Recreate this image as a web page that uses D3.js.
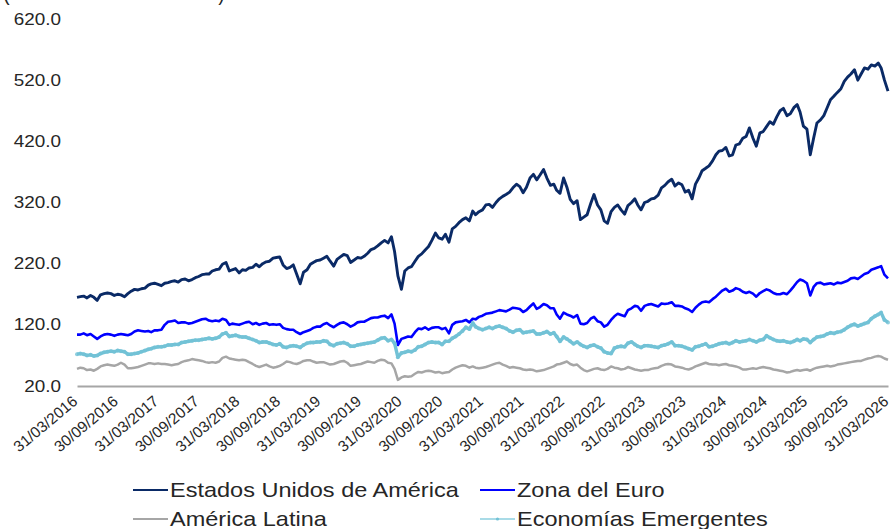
<!DOCTYPE html>
<html>
<head>
<meta charset="utf-8">
<script src="https://cdn.jsdelivr.net/npm/d3@7"></script>
<style>
    body { margin: 0; background: #ffffff; }
    svg { display: block; }
</style>
</head>
<body>
<svg id="chart" width="891" height="529"></svg>
<script>
// semi-monthly observations: 31/03/2016, then the 15th and last day of every month up to 31/03/2026
const firstDate = "31/03/2016";
const monthsCovered = 120;

const tickLabels = [
    "31/03/2016", "30/09/2016", "31/03/2017", "30/09/2017", "31/03/2018", "30/09/2018",
    "31/03/2019", "30/09/2019", "31/03/2020", "30/09/2020", "31/03/2021", "30/09/2021",
    "31/03/2022", "30/09/2022", "31/03/2023", "30/09/2023", "31/03/2024", "30/09/2024",
    "31/03/2025", "30/09/2025", "31/03/2026"
];
const yTicks = [20, 120, 220, 320, 420, 520, 620];

const seriesNames = ["Estados Unidos de América", "Zona del Euro", "América Latina", "Economías Emergentes"];

const usa = [165,
    166, 167, 164, 168, 165, 160, 169, 171, 172, 171, 168, 170, 169, 166, 171, 175, 178, 177, 179, 180, 185, 187, 188, 186,
    184, 188, 189, 191, 192, 190, 194, 195, 192, 194, 197, 199, 202, 203, 203, 208, 210, 211, 219, 222, 208, 210, 212, 205,
    210, 209, 213, 214, 219, 215, 220, 223, 224, 229, 230, 231, 218, 212, 214, 218, 203, 187, 206, 210, 219, 222, 225, 226,
    229, 232, 224, 216, 227, 231, 235, 233, 222, 226, 230, 229, 232, 237, 243, 245, 249, 254, 258, 254, 264, 240, 200, 178,
    208, 213, 215, 224, 232, 236, 242, 248, 258, 270, 262, 260, 268, 255, 277, 281, 287, 292, 295, 290, 306, 300, 305, 308,
    316, 317, 312, 320, 326, 330, 333, 337, 344, 350, 346, 336, 345, 360, 366, 357, 365, 374, 360, 348, 350, 340, 335, 360,
    345, 325, 318, 323, 292, 296, 300, 318, 333, 316, 308, 290, 286, 305, 312, 316, 308, 301, 315, 320, 326, 316, 308, 320,
    322, 326, 327, 332, 344, 348, 354, 358, 347, 352, 349, 337, 340, 326, 350, 360, 372, 376, 380, 388, 398, 404, 405, 410,
    396, 398, 414, 416, 425, 428, 442, 425, 412, 434, 436, 444, 452, 448, 460, 470, 474, 462, 465, 475, 480, 468, 445, 440,
    398, 425, 450, 455, 462, 475, 488, 494, 500, 506, 518, 525, 530, 537, 520, 530, 540, 538, 545, 543, 548, 540, 520, 502];

const euro = [104,
    104, 106, 103, 105, 101, 97, 101, 104, 105, 104, 102, 104, 105, 104, 103, 105, 109, 111, 110, 109, 110, 108, 111, 111,
    112, 120, 125, 126, 127, 123, 124, 124, 122, 123, 125, 127, 129, 130, 127, 126, 127, 126, 130, 128, 120, 122, 121, 120,
    122, 124, 125, 121, 123, 120, 122, 123, 120, 121, 120, 121, 115, 113, 112, 112, 108, 105, 108, 110, 112, 115, 117, 117,
    121, 123, 119, 116, 120, 123, 124, 121, 117, 120, 124, 125, 125, 128, 131, 132, 132, 134, 135, 131, 137, 122, 87, 97,
    99, 101, 100, 108, 114, 113, 116, 112, 115, 116, 116, 113, 115, 106, 120, 124, 125, 126, 128, 124, 130, 129, 133, 135,
    138, 139, 140, 142, 144, 143, 142, 145, 148, 147, 146, 141, 144, 150, 155, 146, 149, 154, 152, 147, 147, 137, 130, 140,
    137, 135, 132, 136, 122, 121, 123, 130, 133, 126, 124, 117, 120, 128, 134, 138, 136, 134, 144, 147, 151, 150, 143, 151,
    153, 154, 152, 150, 155, 154, 155, 157, 151, 151, 150, 147, 145, 141, 148, 153, 157, 158, 157, 162, 166, 171, 176, 179,
    174, 176, 180, 178, 174, 172, 174, 171, 166, 172, 175, 178, 176, 172, 170, 170, 172, 170, 176, 183, 190, 194, 192, 188,
    168, 182, 188, 189, 186, 187, 188, 186, 189, 188, 190, 192, 196, 197, 195, 199, 203, 205, 210, 212, 214, 216, 202, 196];

const latam = [48,
    50, 49, 46, 47, 45, 48, 52, 54, 55, 54, 53, 55, 58, 55, 49, 49, 50, 51, 53, 55, 57, 57, 56, 57,
    56, 56, 55, 54, 55, 56, 59, 61, 62, 64, 63, 62, 61, 59, 58, 59, 58, 60, 66, 68, 65, 64, 63, 62,
    63, 62, 59, 56, 53, 51, 53, 55, 52, 50, 51, 53, 56, 60, 59, 57, 56, 58, 61, 62, 62, 60, 58, 59,
    59, 57, 55, 56, 58, 60, 61, 58, 53, 54, 55, 56, 58, 60, 59, 58, 61, 63, 62, 58, 57, 48, 30, 34,
    36, 35, 36, 40, 43, 42, 44, 45, 44, 42, 43, 41, 42, 43, 47, 50, 52, 54, 53, 50, 52, 50, 49, 50,
    51, 53, 55, 57, 58, 55, 53, 50, 51, 50, 49, 47, 46, 47, 46, 44, 45, 46, 48, 50, 52, 55, 56, 58,
    60, 56, 54, 55, 50, 46, 44, 46, 48, 49, 47, 46, 48, 52, 50, 49, 47, 48, 51, 49, 47, 46, 45, 46,
    46, 48, 49, 50, 53, 55, 56, 55, 52, 51, 50, 48, 47, 49, 52, 54, 56, 58, 56, 55, 55, 54, 55, 56,
    54, 53, 52, 50, 47, 47, 48, 49, 48, 50, 51, 50, 49, 47, 46, 45, 44, 42, 43, 45, 46, 45, 46, 47,
    45, 48, 50, 51, 52, 53, 52, 53, 55, 56, 57, 58, 59, 60, 61, 61, 63, 65, 66, 68, 69, 68, 65, 63];

const emerg = [72,
    73, 72, 70, 71, 69, 70, 73, 75, 76, 77, 76, 78, 77, 76, 72, 72, 73, 74, 76, 78, 80, 81, 83, 84,
    84, 85, 87, 87, 88, 88, 91, 92, 93, 94, 95, 95, 96, 97, 98, 97, 98, 100, 105, 107, 101, 102, 103, 101,
    100, 100, 98, 96, 94, 91, 92, 92, 90, 88, 87, 89, 84, 83, 85, 86, 85, 83, 87, 90, 91, 91, 92, 92,
    94, 93, 88, 86, 89, 90, 91, 89, 85, 85, 87, 88, 89, 90, 91, 92, 95, 98, 99, 94, 96, 90, 67, 74,
    75, 77, 76, 79, 84, 85, 88, 91, 92, 91, 91, 88, 93, 93, 98, 101, 105, 110, 116, 113, 123, 117, 114, 112,
    114, 116, 114, 117, 118, 116, 114, 110, 108, 111, 112, 107, 108, 109, 110, 105, 105, 107, 109, 105, 107, 101, 93, 100,
    97, 93, 89, 92, 88, 85, 83, 86, 87, 84, 82, 76, 74, 73, 82, 84, 85, 84, 90, 92, 88, 85, 83, 86,
    86, 85, 84, 83, 86, 87, 89, 92, 86, 86, 85, 83, 81, 79, 84, 85, 87, 89, 84, 85, 87, 89, 90, 91,
    89, 91, 94, 92, 93, 94, 96, 94, 92, 95, 96, 102, 99, 96, 94, 93, 94, 92, 91, 93, 96, 94, 97, 96,
    91, 96, 100, 101, 102, 105, 107, 106, 108, 109, 112, 116, 119, 121, 118, 120, 122, 124, 130, 134, 137, 140, 128, 124];

const seriesColors = ["#0a2a66", "#0000ff", "#a6a6a6", "#72c2d6"];
const seriesWidths = [2.9, 2.6, 2.5, 3.4];

const parseDate = d3.timeParse("%d/%m/%Y");
const formatDate = d3.timeFormat("%d/%m/%Y");

let dates = [parseDate(firstDate)];
for (let k = 0; k < monthsCovered; k++) {
    dates.push(new Date(2016, 3 + k, 15));
    dates.push(new Date(2016, 4 + k, 0));
}

let allSeries = [usa, euro, latam, emerg];
allSeries.forEach((s, i) => {
    if (s.length != dates.length) throw new Error("serie " + i + " tiene " + s.length + " valores, se esperaban " + dates.length);
});

function render() {
    let svg = d3.select("#chart");

    let xScale = d3.scaleTime()
        .domain([parseDate(tickLabels[0]), parseDate(tickLabels[tickLabels.length - 1])])
        .range([77, 888]);
    let yScale = d3.scaleLinear().domain([20, 620]).range([386, 19]);

    // title, mostly cut off at the top edge
    let title = svg.append("text")
        .attr("x", 0)
        .attr("y", 0)
        .attr("font-family", "Liberation Sans, Arial, sans-serif")
        .attr("font-size", "22px")
        .attr("fill", "#262626")
        .text("(Índices bursátiles MSCI)");
    let tw = title.node().getComputedTextLength();
    title.attr("transform", "translate(3,0) scale(" + (222 / tw) + ",1)");

    // y axis: labels only
    let yAxis = svg.append("g")
        .attr("transform", "translate(61,0)")
        .call(d3.axisLeft(yScale).tickValues(yTicks).tickFormat(d3.format(".1f")).tickSize(0).tickPadding(0));
    yAxis.select(".domain").remove();
    yAxis.selectAll("text")
        .attr("font-family", "Liberation Sans, Arial, sans-serif")
        .attr("font-size", "16px")
        .attr("fill", "#262626")
        .attr("transform", "scale(1.18,1)");

    // x axis
    let xAxis = svg.append("g")
        .attr("transform", "translate(0,386)")
        .call(d3.axisBottom(xScale)
            .tickValues(tickLabels.map(parseDate))
            .tickFormat(formatDate)
            .tickSize(0)
            .tickSizeOuter(0));
    xAxis.select(".domain")
        .attr("stroke", "#a6a6a6")
        .attr("stroke-width", 2);
    xAxis.selectAll("text")
        .attr("x", 0)
        .attr("y", 0)
        .attr("dy", 0)
        .attr("text-anchor", "end")
        .attr("transform", "translate(1,17) rotate(-40)")
        .attr("font-family", "Liberation Sans, Arial, sans-serif")
        .attr("font-size", "15.5px")
        .attr("fill", "#262626");

    let line = d3.line()
        .x((d, i) => xScale(dates[i]))
        .y(d => yScale(d));

    let plot = svg.append("g");
    allSeries.forEach((s, i) => {
        plot.append("path")
            .datum(s)
            .attr("d", line)
            .attr("fill", "none")
            .attr("stroke", seriesColors[i])
            .attr("stroke-width", seriesWidths[i])
            .attr("stroke-linejoin", "round");
    });

    // markers on the emerging markets series
    plot.selectAll(".em-dot")
        .data(emerg)
        .enter()
        .append("circle")
        .classed("em-dot", true)
        .attr("cx", (d, i) => xScale(dates[i]))
        .attr("cy", d => yScale(d))
        .attr("r", 2)
        .attr("fill", seriesColors[3])
        .attr("opacity", 0.8);

    // legend, two rows by two columns
    let legendPos = [[133, 490], [480, 490], [133, 519], [480, 519]];
    seriesNames.forEach((name, i) => {
        let g = svg.append("g")
            .attr("transform", "translate(" + legendPos[i][0] + "," + legendPos[i][1] + ")");
        g.append("line")
            .attr("x1", 0).attr("x2", 35)
            .attr("y1", 0).attr("y2", 0)
            .attr("stroke", i == 3 ? "#a9dbe7" : seriesColors[i])
            .attr("stroke-width", 2);
        if (i == 3) {
            g.append("circle")
                .attr("cx", 17.5).attr("cy", 0).attr("r", 1.6)
                .attr("fill", seriesColors[3]);
        }
        g.append("text")
            .attr("x", 0)
            .attr("y", 0)
            .attr("dy", "0.35em")
            .attr("transform", "translate(37,0) scale(1.12,1)")
            .attr("font-family", "Liberation Sans, Arial, sans-serif")
            .attr("font-size", "21px")
            .attr("fill", "#262626")
            .text(name);
    });
}

render();
</script>
</body>
</html>
